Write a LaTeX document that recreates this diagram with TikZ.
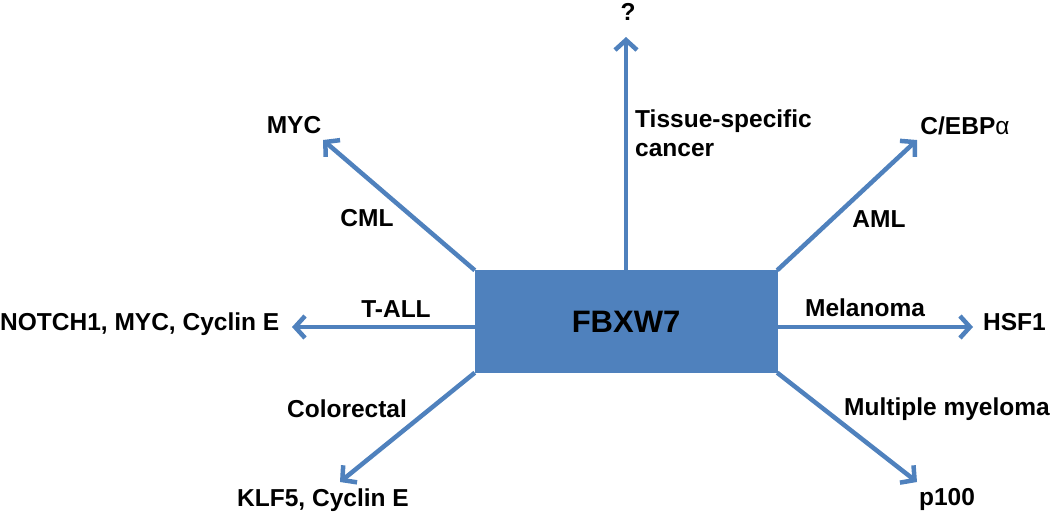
\documentclass[tikz,border=0pt]{standalone}
\usepackage{fontspec}
\setmainfont{Liberation Sans}
\usetikzlibrary{arrows.meta,positioning}

\definecolor{linkblue}{HTML}{4F81BD}

\tikzset{
  hub/.style={fill=linkblue, draw=linkblue, minimum width=302pt,
    minimum height=102pt, inner sep=0pt,
    font=\fontsize{31}{36}\selectfont\bfseries},
  target/.style={inner sep=0pt, anchor=base,
    font=\fontsize{24.5}{29}\selectfont\bfseries},
  disease/.style={target},
  link/.style={draw=linkblue, line width=4.5pt,
    -{Straight Barb[length=10pt,width=22pt]}},
}

\begin{document}
\begin{tikzpicture}[x=1pt, y=-1pt]
    \useasboundingbox (0,0) rectangle (1050,514);

    % Define nodes
    \node[hub]                                 (fbxw7) at (626,321.5) {FBXW7};
    \node[target]                              (unknown) at (628,20) {?};
    \node[target]                              (myc) at (294,133) {MYC};
    \node[target]                              (cebpa) at (965,134) {C/EBP{\mdseries α}};
    \node[target, anchor=base west]            (hsf1) at (983,330) {HSF1};
    \node[target, anchor=base west]            (notch1) at (0,330) {NOTCH1, MYC, Cyclin E};
    \node[target]                              (klf5) at (323,506) {KLF5, Cyclin E};
    \node[target]                              (p100) at (947,505) {p100};
    \node[disease]                             (cml) at (367,226) {CML};
    \node[disease]                             (aml) at (879,227) {AML};
    \node[disease]                             (melanoma) at (865,316) {Melanoma};
    \node[disease]                             (tall) at (396,317) {T-ALL};
    \node[disease]                             (colorectal) at (347,417) {Colorectal};
    \node[disease]                             (myeloma) at (947,415) {Multiple myeloma};
    \node[disease, anchor=base west, align=left] (tissue) at (635,156) {Tissue-specific\\cancer};

    % Arrow tips
    \coordinate (unknown-tip)  at (626,37);
    \coordinate (myc-tip)      at (323,140);
    \coordinate (cebpa-tip)    at (917,140);
    \coordinate (hsf1-tip)     at (973,327);
    \coordinate (notch1-tip)   at (292,327);
    \coordinate (klf5-tip)     at (340,482);
    \coordinate (p100-tip)     at (917,482);
    \coordinate (west-start)   at (fbxw7.west |- notch1-tip);
    \coordinate (east-start)   at (fbxw7.east |- hsf1-tip);

    % Connect the nodes
    \draw[link] (fbxw7.north) -- (unknown-tip);
    \draw[link] (fbxw7.north west) -- (myc-tip);
    \draw[link] (fbxw7.north east) -- (cebpa-tip);
    \draw[link] (east-start) -- (hsf1-tip);
    \draw[link] (west-start) -- (notch1-tip);
    \draw[link] (fbxw7.south west) -- (klf5-tip);
    \draw[link] (fbxw7.south east) -- (p100-tip);

\end{tikzpicture}
\end{document}
